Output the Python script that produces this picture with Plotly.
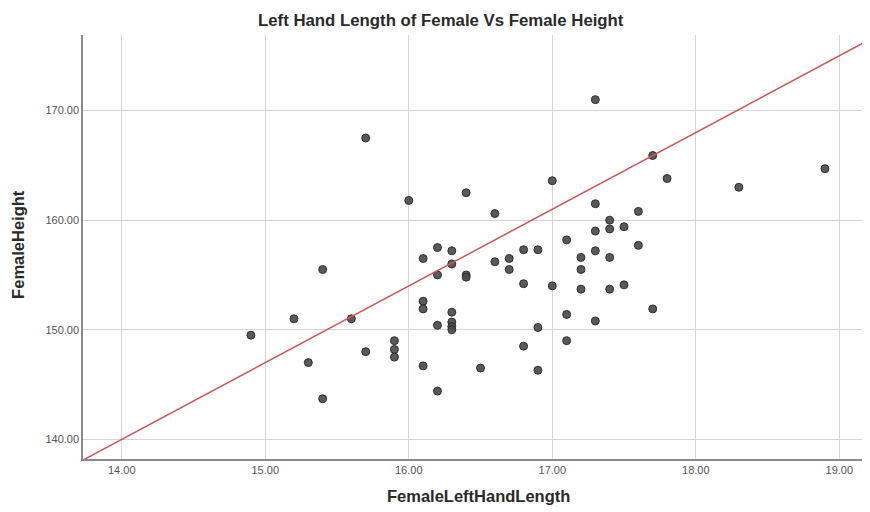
import plotly.graph_objects as go

hand_length = [14.9, 15.2, 15.3, 15.4, 15.4, 15.6, 15.7, 15.7, 15.9, 15.9, 15.9,
               16.0, 16.1, 16.1, 16.1, 16.1, 16.2, 16.2, 16.2, 16.2,
               16.3, 16.3, 16.3, 16.3, 16.3, 16.3, 16.4, 16.4, 16.4, 16.5,
               16.6, 16.6, 16.7, 16.7, 16.8, 16.8, 16.8, 16.9, 16.9, 16.9,
               17.0, 17.0, 17.1, 17.1, 17.1, 17.2, 17.2, 17.2,
               17.3, 17.3, 17.3, 17.3, 17.3, 17.4, 17.4, 17.4, 17.4,
               17.5, 17.5, 17.6, 17.6, 17.7, 17.7, 17.8, 18.3, 18.9]
height = [149.5, 151.0, 147.0, 155.5, 143.7, 151.0, 167.5, 148.0, 149.0, 148.2, 147.5,
          161.8, 156.5, 152.6, 151.9, 146.7, 157.5, 155.0, 150.4, 144.4,
          157.2, 156.0, 151.6, 150.7, 150.3, 150.0, 162.5, 155.0, 154.8, 146.5,
          160.6, 156.2, 156.5, 155.5, 157.3, 154.2, 148.5, 157.3, 150.2, 146.3,
          163.6, 154.0, 158.2, 151.4, 149.0, 156.6, 155.5, 153.7,
          171.0, 161.5, 159.0, 157.2, 150.8, 160.0, 159.2, 156.6, 153.7,
          159.4, 154.1, 160.8, 157.7, 165.9, 151.9, 163.8, 163.0, 164.7]

ref_line_x = [13.73, 19.2]
ref_line_y = [138.1, 176.4]

x_ticks = [14, 15, 16, 17, 18, 19]
y_ticks = [140, 150, 160, 170]

FONT = "Liberation Sans, Arial, sans-serif"

fig = go.Figure()
fig.add_trace(go.Scatter(
    x=hand_length, y=height, mode="markers",
    marker=dict(size=8, color="rgba(75,75,75,0.92)",
                line=dict(color="rgba(40,40,40,0.9)", width=1)),
    showlegend=False, hoverinfo="x+y"))
fig.add_trace(go.Scatter(
    x=ref_line_x, y=ref_line_y, mode="lines",
    line=dict(color="#c9595c", width=1.5),
    showlegend=False, hoverinfo="skip"))

fig.update_layout(
    width=862, height=504,
    margin=dict(l=75, r=2, t=27, b=53),
    paper_bgcolor="white", plot_bgcolor="white",
    font=dict(family=FONT, color="#222"),
    title=dict(text="<b>Left Hand Length of Female Vs Female Height</b>",
               x=0.502, xref="container", xanchor="center",
               y=0.976, yref="container", yanchor="middle",
               font=dict(size=16.8, color="#2a2a2a", family=FONT)),
    xaxis=dict(range=[13.73, 19.2], tickvals=x_ticks, tickformat=".2f",
               showgrid=True, gridcolor="#d6d6d6", gridwidth=1,
               zeroline=False, showline=True, linecolor="#8a8a8a", linewidth=1.5,
               ticks="", tickfont=dict(size=11, color="#555"), automargin=False),
    yaxis=dict(range=[138.2, 176.9], tickvals=y_ticks, tickformat=".2f",
               showgrid=True, gridcolor="#d6d6d6", gridwidth=1,
               zeroline=False, showline=True, linecolor="#8a8a8a", linewidth=1.5,
               ticks="", tickfont=dict(size=11, color="#555"), automargin=False),
    annotations=[
        dict(text="<b>FemaleLeftHandLength</b>", xref="paper", yref="paper",
             x=0.504, y=0, yshift=-37, xanchor="center", yanchor="middle",
             showarrow=False, font=dict(size=16.5, color="#2a2a2a", family=FONT)),
        dict(text="<b>FemaleHeight</b>", xref="paper", yref="paper",
             x=0, y=0.505, xshift=-65, xanchor="center", yanchor="middle",
             textangle=-90, showarrow=False,
             font=dict(size=16.5, color="#2a2a2a", family=FONT)),
    ],
)

fig.write_html("out.html")
